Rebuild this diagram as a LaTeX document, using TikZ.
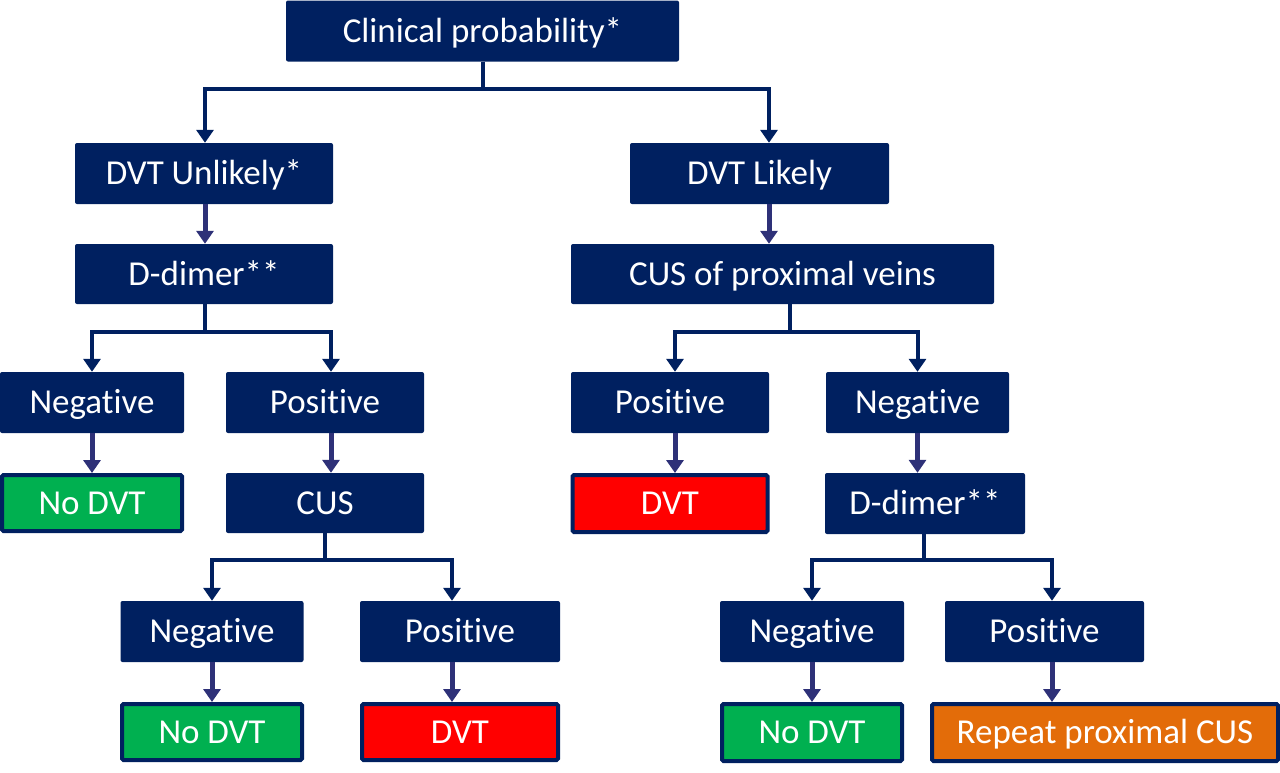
\documentclass[tikz,border=0pt]{standalone}
\usepackage{fontspec}
\setmainfont{Carlito}[Ligatures=NoCommon]
\usetikzlibrary{arrows.meta}
\definecolor{navy}{HTML}{002060}
\definecolor{arrowc}{HTML}{2E3178}
\definecolor{okgreen}{HTML}{00B050}
\definecolor{dvtred}{HTML}{FF0000}
\definecolor{repor}{HTML}{E36C09}
\begin{document}
\begin{tikzpicture}[x=1pt,y=-1pt,
  box/.style={fill=navy, text=white, rounded corners=2pt, inner sep=0pt,
    font=\fontsize{35}{40}\selectfont, text height=22pt, text depth=0pt},
  cbox/.style={box, draw=navy, line width=4pt, rounded corners=1.5pt},
  branch/.style={draw=navy, line width=4pt, -{Triangle[width=17pt,length=13pt]}},
  single/.style={draw=arrowc, line width=5pt, -{Triangle[width=17pt,length=13pt]}}
]
\useasboundingbox (0,0) rectangle (1280,772);
% boxes
\node[box, minimum width=393pt, minimum height=61pt] (clin) at (482.5,31) {Clinical probability*};
\node[box, minimum width=258pt, minimum height=61pt] (unl) at (204,173.5) {DVT Unlikely*};
\node[box, minimum width=259pt, minimum height=61pt] (lik) at (759.5,173.5) {DVT Likely};
\node[box, minimum width=258pt, minimum height=60pt] (dd1) at (204,274) {D-dimer**};
\node[box, minimum width=423pt, minimum height=60pt] (cusp) at (782.5,274) {CUS of proximal veins};
\node[box, minimum width=184pt, minimum height=61pt] (neg1) at (92,402.5) {Negative};
\node[box, minimum width=198pt, minimum height=61pt] (pos1) at (325,402.5) {Positive};
\node[cbox, fill=okgreen, minimum width=180pt, minimum height=56pt] (nodvt1) at (92,503) {No DVT};
\node[box, minimum width=198pt, minimum height=60pt] (cus) at (325,503) {CUS};
\node[box, minimum width=183pt, minimum height=61pt] (neg2) at (212,631.5) {Negative};
\node[box, minimum width=200pt, minimum height=61pt] (pos2) at (460,631.5) {Positive};
\node[cbox, fill=okgreen, minimum width=180pt, minimum height=56pt] (nodvt2) at (212,732) {No DVT};
\node[cbox, fill=dvtred, minimum width=196pt, minimum height=56pt] (dvt2) at (460,732) {DVT};
\node[box, minimum width=198pt, minimum height=61pt] (pos3) at (670,402.5) {Positive};
\node[box, minimum width=183pt, minimum height=61pt] (neg3) at (917.5,402.5) {Negative};
\node[cbox, fill=dvtred, minimum width=195pt, minimum height=57pt] (dvt3) at (670,503.5) {DVT};
\node[box, minimum width=200pt, minimum height=61pt] (dd3) at (925,503.5) {D-dimer**};
\node[box, minimum width=184pt, minimum height=61pt] (neg4) at (812,631.5) {Negative};
\node[box, minimum width=199pt, minimum height=61pt] (pos4) at (1044.5,631.5) {Positive};
\node[cbox, fill=okgreen, minimum width=180pt, minimum height=57pt] (nodvt4) at (812,732.5) {No DVT};
\node[cbox, fill=repor, minimum width=346pt, minimum height=57pt] (rep) at (1105,732.5) {Repeat proximal CUS};
% x-guides
\coordinate (xa) at (205,0);
\coordinate (xb) at (769,0);
\coordinate (xc) at (331,0);
\coordinate (xd) at (452,0);
\coordinate (xe) at (675,0);
\coordinate (xf) at (790,0);
\coordinate (xg) at (924,0);
\coordinate (xh) at (1052,0);
% branching connectors
\draw[branch] (clin.south) -- ++(0,27) -| (unl.north -| xa);
\draw[branch] (clin.south) -- ++(0,27) -| (lik.north -| xb);
\draw[branch] (dd1.south -| xa) -- ++(0,28) -| (neg1.north);
\draw[branch] (dd1.south -| xa) -- ++(0,28) -| (pos1.north -| xc);
\draw[branch] (cus.south) -- ++(0,27) -| (neg2.north);
\draw[branch] (cus.south) -- ++(0,27) -| (pos2.north -| xd);
\draw[branch] (cusp.south -| xf) -- ++(0,28) -| (pos3.north -| xe);
\draw[branch] (cusp.south -| xf) -- ++(0,28) -| (neg3.north);
\draw[branch] (dd3.south -| xg) -- ++(0,26) -| (neg4.north);
\draw[branch] (dd3.south -| xg) -- ++(0,26) -| (pos4.north -| xh);
% single connectors
\draw[single] (unl.south -| xa) -- (dd1.north -| xa);
\draw[single] (lik.south -| xb) -- (cusp.north -| xb);
\draw[single] (neg1.south) -- (nodvt1.north);
\draw[single] (pos1.south -| xc) -- (cus.north -| xc);
\draw[single] (neg2.south) -- (nodvt2.north);
\draw[single] (pos2.south -| xd) -- (dvt2.north -| xd);
\draw[single] (pos3.south -| xe) -- (dvt3.north -| xe);
\draw[single] (neg3.south) -- (dd3.north -| neg3.south);
\draw[single] (neg4.south) -- (nodvt4.north);
\draw[single] (pos4.south -| xh) -- (rep.north -| xh);
\end{tikzpicture}
\end{document}
